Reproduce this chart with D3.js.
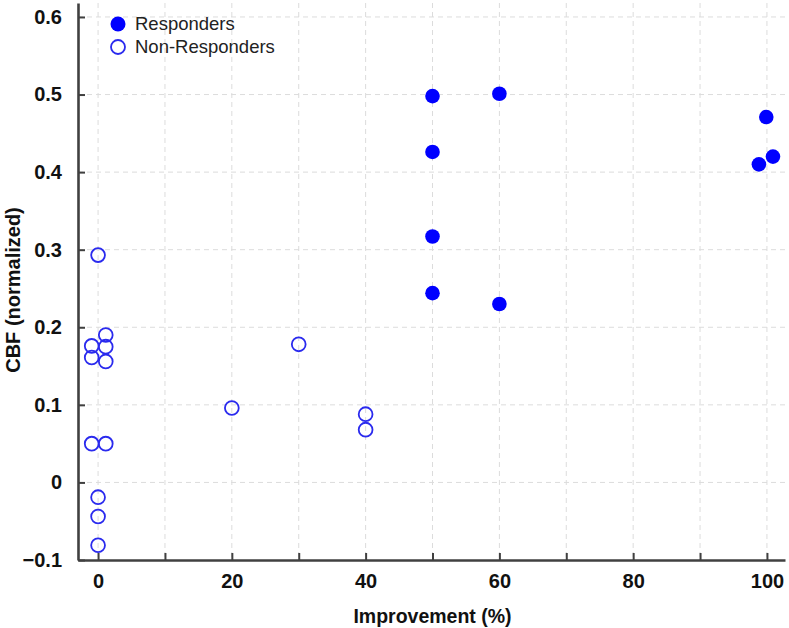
<!DOCTYPE html>
<html>
<head>
	<meta charset="utf-8">
	<title>CBF vs Improvement</title>
	<style type="text/css">
		body { margin: 0; background: #fff; }
		svg { display: block; font-family: "Liberation Sans", Arial, sans-serif; }
	</style>
	<script src="https://d3js.org/d3.v7.min.js"></script>
</head>
<body>
<div class="chart"></div>
<script type="text/javascript">

	// data
	var resp_x = [50, 60, 50, 99.9, 100.9, 98.8, 50, 50, 60];
	var resp_y = [0.498, 0.501, 0.426, 0.471, 0.420, 0.410, 0.317, 0.244, 0.230];

	var non_x = [0, 1.15, -0.95, 1.15, -0.95, 1.15, 20, -0.95, 1.15, 0, 0, 0, 30, 40, 40];
	var non_y = [0.293, 0.190, 0.176, 0.175, 0.161, 0.156, 0.096, 0.050, 0.050, -0.019, -0.044, -0.081, 0.178, 0.088, 0.068];

	var x_ticks = [0, 10, 20, 30, 40, 50, 60, 70, 80, 90, 100];
	var x_labels = [0, 20, 40, 60, 80, 100];
	var y_ticks = [-0.1, 0, 0.1, 0.2, 0.3, 0.4, 0.5, 0.6];

	var legend_names = ["Responders", "Non-Responders"];

	var svgDims = {width: 789, height: 628};
	var margin = {top: 3, right: 4, bottom: 68, left: 78};
	var width = svgDims.width - margin.left - margin.right;
	var height = svgDims.height - margin.top - margin.bottom;

	function join(xs, ys){
		var out = [];
		for (var i = 0; i < xs.length; i++){
			out.push({x: xs[i], y: ys[i]});
		}
		return out;
	}

	var svg = d3.select(".chart")
				.append("svg")
				.attr("width", svgDims.width)
				.attr("height", svgDims.height);

	var g = svg.append("g")
				.attr("transform", "translate(" + margin.left + "," + margin.top + ")");

	var x_scale = d3.scaleLinear().domain([-3, 102.7]).range([0, width]);
	var y_scale = d3.scaleLinear().domain([-0.1, 0.618]).range([height, 0]);

	// dashed grid
	g.append("g").selectAll("line.vg")
		.data(x_ticks).enter().append("line")
		.attr("x1", function(d){ return x_scale(d); })
		.attr("x2", function(d){ return x_scale(d); })
		.attr("y1", 0).attr("y2", height)
		.attr("stroke", "#dcdcdc").attr("stroke-width", 1)
		.attr("stroke-dasharray", "5,4");

	g.append("g").selectAll("line.hg")
		.data(y_ticks.slice(1)).enter().append("line")
		.attr("y1", function(d){ return y_scale(d); })
		.attr("y2", function(d){ return y_scale(d); })
		.attr("x1", 0).attr("x2", width)
		.attr("stroke", "#dcdcdc").attr("stroke-width", 1)
		.attr("stroke-dasharray", "5,4");

	// axes, ticks pointing inward
	var x_axis = d3.axisBottom(x_scale)
					.tickValues(x_ticks)
					.tickSizeInner(-7).tickSizeOuter(0)
					.tickPadding(14)
					.tickFormat(function(d){ return x_labels.indexOf(d) >= 0 ? d : ""; });

	var y_axis = d3.axisLeft(y_scale)
					.tickValues(y_ticks)
					.tickSizeInner(-7).tickSizeOuter(0)
					.tickPadding(16)
					.tickFormat(function(d){ return d === 0 ? "0" : d3.format(".1f")(d); });

	var gx = g.append("g")
		.attr("transform", "translate(0," + height + ")")
		.call(x_axis);

	var gy = g.append("g")
		.call(y_axis);

	[gx, gy].forEach(function(ax){
		ax.select(".domain").attr("stroke", "#404040").attr("stroke-width", 2.6);
		ax.selectAll(".tick line").attr("stroke", "#404040").attr("stroke-width", 2);
		ax.selectAll(".tick text")
			.attr("fill", "#111")
			.style("font-size", "20px")
			.style("font-weight", "bold")
			.style("font-family", "'Liberation Sans', Arial, sans-serif");
	});
	gx.selectAll(".tick text").attr("dy", "0.68em");

	// points
	var resp = join(resp_x, resp_y);
	var non = join(non_x, non_y);

	g.append("g").selectAll("circle")
		.data(non).enter().append("circle")
		.attr("cx", function(d){ return x_scale(d.x); })
		.attr("cy", function(d){ return y_scale(d.y); })
		.attr("r", 6.9)
		.attr("fill", "none")
		.attr("stroke", "#2a2aee")
		.attr("stroke-width", 1.8);

	g.append("g").selectAll("circle")
		.data(resp).enter().append("circle")
		.attr("cx", function(d){ return x_scale(d.x); })
		.attr("cy", function(d){ return y_scale(d.y); })
		.attr("r", 7.3)
		.attr("fill", "#0000ff");

	// legend
	var leg = svg.append("g").attr("transform", "translate(118,24)");
	leg.append("circle").attr("cx", 0).attr("cy", 0).attr("r", 7.5).attr("fill", "#0000ff");
	leg.append("circle").attr("cx", 0).attr("cy", 23).attr("r", 7)
		.attr("fill", "none").attr("stroke", "#2a2aee").attr("stroke-width", 1.8);
	leg.selectAll("text")
		.data(legend_names).enter().append("text")
		.attr("x", 17)
		.attr("y", function(d, i){ return i * 23; })
		.attr("dy", "0.35em")
		.attr("fill", "#222")
		.style("font-size", "18.5px")
		.text(function(d){ return d; });

	// axis titles
	svg.append("text")
		.attr("x", margin.left + x_scale(50))
		.attr("y", 623)
		.attr("text-anchor", "middle")
		.attr("fill", "#111")
		.style("font-size", "19.5px")
		.style("font-weight", "bold")
		.text("Improvement (%)");

	svg.append("text")
		.attr("transform", "translate(20,290) rotate(-90)")
		.attr("text-anchor", "middle")
		.attr("fill", "#111")
		.style("font-size", "20px")
		.style("font-weight", "bold")
		.text("CBF (normalized)");

</script>
</body>
</html>
